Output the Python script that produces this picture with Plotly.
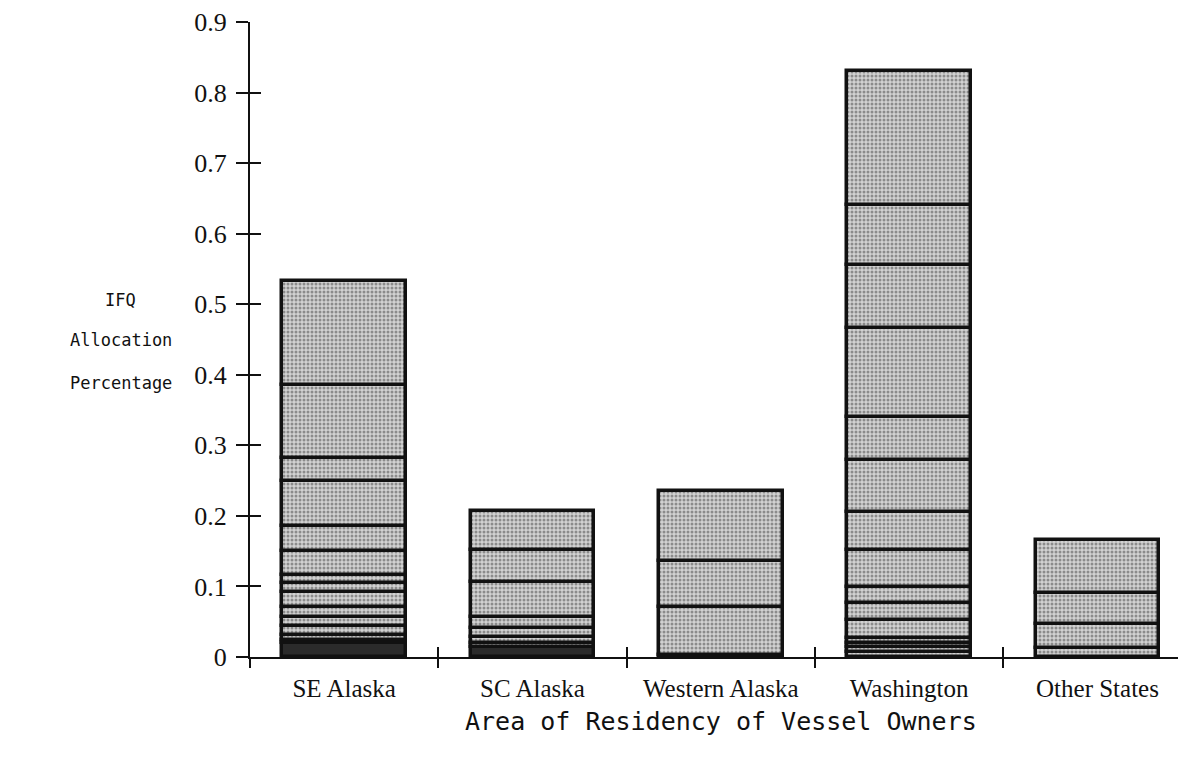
import plotly.graph_objects as go
import numpy as np

categories = ["SE Alaska", "SC Alaska", "Western Alaska", "Washington", "Other States"]

# cumulative segment boundaries (top edge of each stacked segment)
se_alaska = [0.020, 0.024, 0.031, 0.044, 0.057, 0.071, 0.092, 0.105, 0.116, 0.150, 0.186, 0.249, 0.282, 0.385, 0.533]
sc_alaska = [0.014, 0.020, 0.028, 0.041, 0.057, 0.106, 0.152, 0.207]
western_alaska = [0.003, 0.071, 0.136, 0.235]
washington = [0.007, 0.014, 0.020, 0.027, 0.052, 0.077, 0.099, 0.152, 0.206, 0.279, 0.340, 0.466, 0.556, 0.641, 0.830]
other_states = [0.013, 0.047, 0.091, 0.166]

# number of bottom segments drawn dark (dense thin holdings)
dark_bottom = [1, 1, 0, 0, 0]

y_ticks = [0, 0.1, 0.2, 0.3, 0.4, 0.5, 0.6, 0.7, 0.8, 0.9]
y_tick_text = ["0", "0.1", "0.2", "0.3", "0.4", "0.5", "0.6", "0.7", "0.8", "0.9"]

y_title_lines = ["IFQ", "Allocation", "Percentage"]

bars = [se_alaska, sc_alaska, western_alaska, washington, other_states]

fig = go.Figure()
for i, (cat, tops) in enumerate(zip(categories, bars)):
    tops = np.array(tops)
    bases = np.concatenate([[0.0], tops[:-1]])
    heights = tops - bases
    n = len(tops)
    colors = ["#2b2b2b" if k < dark_bottom[i] else "#d2d2d2" for k in range(n)]
    shapes = ["" if k < dark_bottom[i] else "." for k in range(n)]
    fig.add_trace(go.Bar(
        x=[i] * n,
        y=heights,
        base=bases,
        width=0.655,
        marker=dict(
            color=colors,
            line=dict(color="#111111", width=3.5),
            pattern=dict(shape=shapes, fgcolor="#2a2a2a", size=4, solidity=0.45, fillmode="overlay"),
        ),
        showlegend=False,
        hoverinfo="skip",
    ))

serif = "Liberation Serif, Times New Roman, serif"
mono = "DejaVu Sans Mono, monospace"

y_title_pos = [0.562, 0.499, 0.431]
annotations = [
    dict(text="Area of Residency of Vessel Owners", xref="paper", yref="paper",
         x=0.503, y=-0.101, showarrow=False, xanchor="center", yanchor="middle",
         font=dict(family=mono, size=25, color="#111111")),
]
for line, yp in zip(y_title_lines, y_title_pos):
    annotations.append(dict(text=line, xref="paper", yref="paper", x=-0.138, y=yp,
                            showarrow=False, xanchor="center", yanchor="middle",
                            font=dict(family=mono, size=17, color="#111111")))

# the page body adds an 8px offset; the figure is sized so the plot sits where the reference has it
fig.update_layout(
    width=1178, height=762,
    paper_bgcolor="white", plot_bgcolor="white",
    margin=dict(l=242, r=0, t=14, b=113, autoexpand=False),
    barmode="overlay",
    bargap=0,
    xaxis=dict(
        range=[-0.5, 4.47], tickvals=list(range(5)), ticktext=categories,
        showline=True, linecolor="#111111", linewidth=2, automargin=False,
        showgrid=False, zeroline=False,
        ticks="", ticklabelstandoff=8,
        tickfont=dict(family=serif, size=25, color="#111111"),
    ),
    yaxis=dict(
        range=[0, 0.9], tickvals=y_ticks, ticktext=y_tick_text,
        showline=True, linecolor="#111111", linewidth=2, automargin=False,
        showgrid=False, zeroline=False,
        ticks="outside", ticklen=12, tickwidth=2, tickcolor="#111111",
        ticklabelstandoff=4,
        tickfont=dict(family=serif, size=26, color="#111111"),
    ),
    xaxis2=dict(
        overlaying="x", anchor="y2", side="bottom", matches="x", automargin=False,
        range=[-0.5, 4.47], tickvals=[-0.5, 0.5, 1.5, 2.5, 3.5],
        showticklabels=False, showline=False, showgrid=False, zeroline=False,
        ticks="inside", ticklen=10, tickwidth=2, tickcolor="#111111",
    ),
    yaxis2=dict(
        overlaying="y", anchor="x2", side="left", matches="y", automargin=False,
        range=[0, 0.9], tickvals=y_ticks,
        showticklabels=False, showline=False, showgrid=False, zeroline=False,
        ticks="inside", ticklen=11, tickwidth=2, tickcolor="#111111",
    ),
    xaxis3=dict(
        overlaying="x", anchor="y", side="bottom", matches="x", automargin=False,
        range=[-0.5, 4.47], tickvals=[-0.5, 0.5, 1.5, 2.5, 3.5],
        showticklabels=False, showline=False, showgrid=False, zeroline=False,
        ticks="outside", ticklen=10, tickwidth=2, tickcolor="#111111",
    ),
    annotations=annotations,
)

# empty helper traces so the overlay tick axes are drawn
fig.add_trace(go.Scatter(x=[], y=[], xaxis="x2", yaxis="y2", showlegend=False))
fig.add_trace(go.Scatter(x=[], y=[], xaxis="x3", yaxis="y", showlegend=False))

fig.write_html("out.html")
